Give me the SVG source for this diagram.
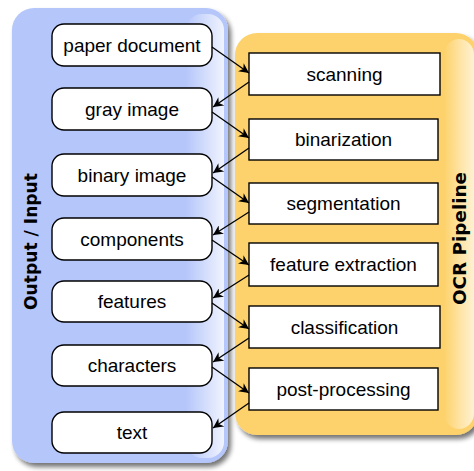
<svg xmlns="http://www.w3.org/2000/svg" width="474" height="471" viewBox="0 0 474 471">
<defs>
<filter id="sh" x="-10%" y="-10%" width="130%" height="130%">
<feGaussianBlur in="SourceAlpha" stdDeviation="2.5"/>
<feOffset dx="3" dy="4" result="b"/>
<feComponentTransfer><feFuncA type="linear" slope="0.55"/></feComponentTransfer>
<feMerge><feMergeNode/><feMergeNode in="SourceGraphic"/></feMerge>
</filter>
<linearGradient id="gb" x1="0" y1="0" x2="1" y2="0">
<stop offset="0" stop-color="#ffffff" stop-opacity="0"/>
<stop offset="1" stop-color="#ffffff" stop-opacity="0.8"/>
</linearGradient>
<linearGradient id="go" x1="0" y1="0" x2="1" y2="0">
<stop offset="0" stop-color="#fff8e6" stop-opacity="0"/>
<stop offset="1" stop-color="#fff8e6" stop-opacity="0.85"/>
</linearGradient>
<marker id="ah" viewBox="0 0 10 10" refX="10" refY="5" markerWidth="10" markerHeight="10" markerUnits="userSpaceOnUse" orient="auto">
<path d="M0,0 L10,5 L0,10 L3,5 z" fill="#000"/>
</marker>
<style>
.lane-label{font-family:"DejaVu Sans",sans-serif;font-weight:bold;font-size:17.5px;fill:#000;text-anchor:middle}
.io rect{fill:#fff;stroke:#000;stroke-width:1.4}
.st rect{fill:#fff;stroke:#000;stroke-width:1.4}
.t{font-family:"Liberation Sans",Arial,sans-serif;font-size:19px;fill:#000;text-anchor:middle}
.c line{stroke:#000;stroke-width:1.3;marker-end:url(#ah)}
</style>
</defs>

<g id="lane-io">
<rect x="12" y="8" width="216" height="455" rx="22" fill="#b5c6fa" filter="url(#sh)"/>
<rect x="186" y="14" width="38" height="444" rx="16" fill="url(#gb)"/>
<text class="lane-label" transform="translate(37,241.5) rotate(-90)" textLength="137" lengthAdjust="spacingAndGlyphs">Output / Input</text>
</g>

<g id="lane-ocr">
<rect x="235" y="33" width="243" height="402" rx="22" fill="#fdd26c" filter="url(#sh)"/>
<rect x="444" y="39" width="30" height="390" rx="16" fill="url(#go)"/>
<text class="lane-label" transform="translate(466,238.5) rotate(-90)" textLength="133" lengthAdjust="spacingAndGlyphs">OCR Pipeline</text>
</g>

<g id="n-paper" class="io"><rect x="52" y="24" width="160" height="42" rx="12"/><text class="t" x="132" y="51.5">paper document</text></g>
<g id="n-gray" class="io"><rect x="52" y="88" width="160" height="42" rx="12"/><text class="t" x="132" y="115.5">gray image</text></g>
<g id="n-binary" class="io"><rect x="52" y="154" width="160" height="42" rx="12"/><text class="t" x="132" y="181.5">binary image</text></g>
<g id="n-components" class="io"><rect x="52" y="218" width="160" height="42" rx="12"/><text class="t" x="132" y="245.5">components</text></g>
<g id="n-features" class="io"><rect x="52" y="281" width="160" height="41" rx="12"/><text class="t" x="132" y="308">features</text></g>
<g id="n-characters" class="io"><rect x="52" y="345" width="160" height="41" rx="12"/><text class="t" x="132" y="372">characters</text></g>
<g id="n-text" class="io"><rect x="52" y="412" width="160" height="41" rx="12"/><text class="t" x="132" y="439">text</text></g>

<g id="s-scanning" class="st"><rect x="249" y="53" width="191" height="42"/><text class="t" x="344.5" y="80.5">scanning</text></g>
<g id="s-binarization" class="st"><rect x="249" y="119" width="189" height="41"/><text class="t" x="343.5" y="146">binarization</text></g>
<g id="s-segmentation" class="st"><rect x="249" y="183" width="189" height="41"/><text class="t" x="343.5" y="210">segmentation</text></g>
<g id="s-feature" class="st"><rect x="249" y="243" width="189" height="43"/><text class="t" x="343.5" y="271">feature extraction</text></g>
<g id="s-classification" class="st"><rect x="249" y="306" width="191" height="42"/><text class="t" x="344.5" y="333.5">classification</text></g>
<g id="s-post" class="st"><rect x="249" y="368" width="189" height="42"/><text class="t" x="343.5" y="395.5">post-processing</text></g>

<g id="connectors" class="c">
<line x1="212" y1="47" x2="249" y2="73"/>
<line x1="249" y1="82" x2="213" y2="107"/>
<line x1="212" y1="112" x2="249" y2="138"/>
<line x1="249" y1="148" x2="213" y2="173"/>
<line x1="212" y1="177" x2="249" y2="203"/>
<line x1="249" y1="212" x2="213" y2="235"/>
<line x1="212" y1="240" x2="249" y2="265"/>
<line x1="249" y1="275" x2="213" y2="298"/>
<line x1="212" y1="303" x2="249" y2="329"/>
<line x1="249" y1="338" x2="213" y2="362"/>
<line x1="212" y1="367" x2="249" y2="393"/>
<line x1="249" y1="403" x2="213" y2="428"/>
</g>
</svg>
